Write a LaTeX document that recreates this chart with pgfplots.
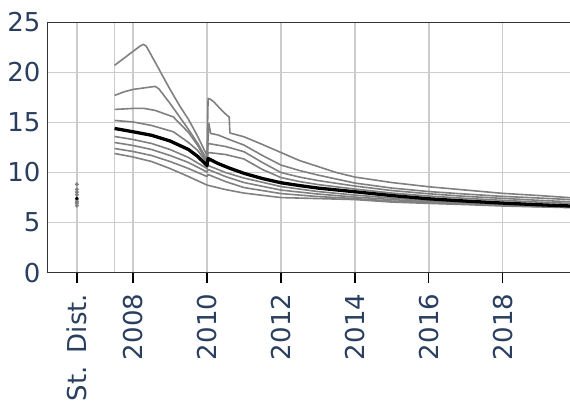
\documentclass[border=0pt]{standalone}
\usepackage{pgfplots}
\pgfplotsset{compat=1.18}
\usepackage{pgfplotstable}
\usepackage{fontspec}
\setmainfont{DejaVu Sans}
\definecolor{labelblue}{RGB}{42,63,95}
\definecolor{gridgray}{RGB}{204,204,204}
\definecolor{sepgray}{RGB}{232,232,232}
\definecolor{linegray}{RGB}{128,128,128}

% St. Dist. column: one value per scenario
\pgfplotstableread{
x y
2006.48 8.82
2006.48 8.32
2006.48 8.05
2006.48 7.80
2006.48 7.30
2006.48 7.08
2006.48 6.92
2006.48 6.69
}\stdist

\begin{document}
\begin{tikzpicture}
\begin{axis}[
  name=ax,
  scale only axis,
  width=522.7pt, height=250.4pt,
  xmin=2005.68, xmax=2019.82,
  ymin=0, ymax=25,
  clip=false,
  axis line style={draw=none},
  xtick={2006.48,2008,2010,2012,2014,2016,2018},
  xticklabels={St.\hspace{0.5em}Dist.,2008,2010,2012,2014,2016,2018},
  ytick={0,5,10,15,20,25},
  extra x ticks={2007.5},
  extra x tick labels={},
  extra x tick style={grid style={sepgray, line width=1.3pt}, major tick length=0pt},
  grid=major,
  major grid style={gridgray, line width=1.5pt},
  tick pos=left,
  tick align=outside,
  major tick length=10pt,
  xtick style={black, line width=1.3pt},
  ytick style={draw=none},
  /pgf/number format/assume math mode=true,
  tick label style={font=\fontsize{26}{30}\selectfont, text=labelblue, inner sep=0pt},
  xticklabel style={rotate=90, anchor=east},
  xticklabel shift=11pt,
  yticklabel style={anchor=east},
  yticklabel shift=-3.4pt,
  every axis plot/.append style={line join=round},
]

% scenario paths
\addplot[linegray, line width=1.6pt] coordinates {
(2007.5,20.7) (2007.75,21.4) (2008,22.1) (2008.2,22.65) (2008.28,22.8) (2008.36,22.6)
(2008.6,21.0) (2009,18.3) (2009.27,16.6) (2009.5,15.3) (2009.75,13.6)
(2010,11.7) (2010.03,17.4) (2010.1,17.3) (2010.2,17.0) (2010.35,16.4)
(2010.53,15.75) (2010.6,15.55) (2010.62,13.95) (2011,13.57) (2011.5,12.8) (2012,12.0)
(2012.5,11.2) (2013,10.6) (2013.5,10.0) (2014,9.55) (2015,9.0) (2016,8.58) (2017,8.25)
(2018,7.92) (2019,7.7) (2019.82,7.49)
};
\addplot[linegray, line width=1.6pt] coordinates {
(2007.5,17.7) (2007.75,18.05) (2008,18.3) (2008.3,18.45) (2008.6,18.6) (2008.7,18.35)
(2009,16.9) (2009.27,15.5) (2009.5,14.3) (2009.75,12.9) (2010,11.3) (2010.05,14.9)
(2010.1,13.9) (2010.3,13.75) (2010.6,13.3) (2011,12.74) (2011.5,11.7) (2012,10.75)
(2012.5,10.2) (2013,9.75) (2014,8.95) (2015,8.45) (2016,8.1) (2017,7.85) (2018,7.62)
(2019,7.45) (2019.82,7.3)
};
\addplot[linegray, line width=1.6pt] coordinates {
(2007.5,16.3) (2008,16.4) (2008.3,16.4) (2008.6,16.2) (2009.09,15.55) (2009.5,14.0)
(2009.75,12.7) (2010,11.05) (2010.03,12.9) (2010.5,12.6) (2011,12.08) (2011.5,11.0)
(2012,10.0) (2012.5,9.55) (2013,9.2) (2014,8.65) (2015,8.2) (2016,7.88) (2017,7.62)
(2018,7.42) (2019,7.22) (2019.82,7.08)
};
\addplot[linegray, line width=1.6pt] coordinates {
(2007.5,15.2) (2008,15.05) (2008.5,14.7) (2009.09,14.07) (2009.5,13.0) (2009.75,12.2)
(2010,10.95) (2010.03,12.0) (2010.5,11.8) (2011,11.35) (2011.5,10.3) (2012,9.5)
(2012.5,9.1) (2013,8.8) (2014,8.35) (2015,7.95) (2016,7.65) (2017,7.42) (2018,7.22)
(2019,7.04) (2019.82,6.92)
};
\addplot[linegray, line width=1.6pt] coordinates {
(2007.5,13.6) (2008,13.3) (2008.5,12.9) (2009,12.3) (2009.5,11.5) (2010,10.4)
(2010.03,10.7) (2010.5,10.0) (2011,9.45) (2012,8.6) (2013,8.1) (2014,7.75) (2015,7.45)
(2016,7.2) (2017,7.0) (2018,6.85) (2019,6.7) (2019.82,6.6)
};
\addplot[linegray, line width=1.6pt] coordinates {
(2007.5,13.0) (2008,12.7) (2008.5,12.3) (2009,11.7) (2009.5,11.0) (2010,10.05)
(2010.03,10.3) (2010.5,9.6) (2011,9.0) (2012,8.25) (2013,7.85) (2014,7.55) (2015,7.3)
(2016,7.08) (2017,6.92) (2018,6.78) (2019,6.65) (2019.82,6.55)
};
\addplot[linegray, line width=1.6pt] coordinates {
(2007.5,12.4) (2008,12.1) (2008.5,11.7) (2009,11.1) (2009.5,10.4) (2010,9.6)
(2010.03,9.8) (2010.5,9.1) (2011,8.5) (2012,7.9) (2013,7.6) (2014,7.4) (2015,7.15)
(2016,6.98) (2017,6.85) (2018,6.72) (2019,6.6) (2019.82,6.52)
};
\addplot[linegray, line width=1.6pt] coordinates {
(2007.5,11.9) (2008,11.55) (2008.5,11.1) (2009,10.4) (2009.5,9.6) (2010,8.75)
(2010.5,8.3) (2011,7.95) (2012,7.5) (2013,7.4) (2014,7.3) (2015,7.05) (2016,6.92)
(2017,6.8) (2018,6.66) (2019,6.57) (2019.82,6.5)
};

% central path
\addplot[black, line width=3.3pt] coordinates {
(2007.5,14.4) (2008,14.07) (2008.5,13.72) (2009,13.15) (2009.5,12.3) (2009.75,11.6)
(2010,10.7) (2010.03,11.4) (2010.3,10.9) (2010.6,10.45) (2011,9.92) (2011.5,9.4)
(2012,8.98) (2012.5,8.7) (2013,8.45) (2014,8.08) (2015,7.7) (2016,7.38) (2017,7.15)
(2018,6.95) (2019,6.78) (2019.82,6.66)
};

% steady-state distribution
\addplot[only marks, mark=*, mark size=1.9pt, linegray] table[x=x, y=y] {\stdist};
\addplot[only marks, mark=*, mark size=1.5pt, black] coordinates {(2006.48,7.42)};

% frame: left, top and bottom
\draw[black!80, line width=1pt] (rel axis cs:1,1) -- (rel axis cs:0,1) -- (rel axis cs:0,0) -- (rel axis cs:1,0);
\end{axis}
\pgfresetboundingbox
\useasboundingbox ([xshift=-47.3pt,yshift=-129.3pt]ax.south west) rectangle ([yshift=22.3pt]ax.north east);
\end{tikzpicture}
\end{document}
